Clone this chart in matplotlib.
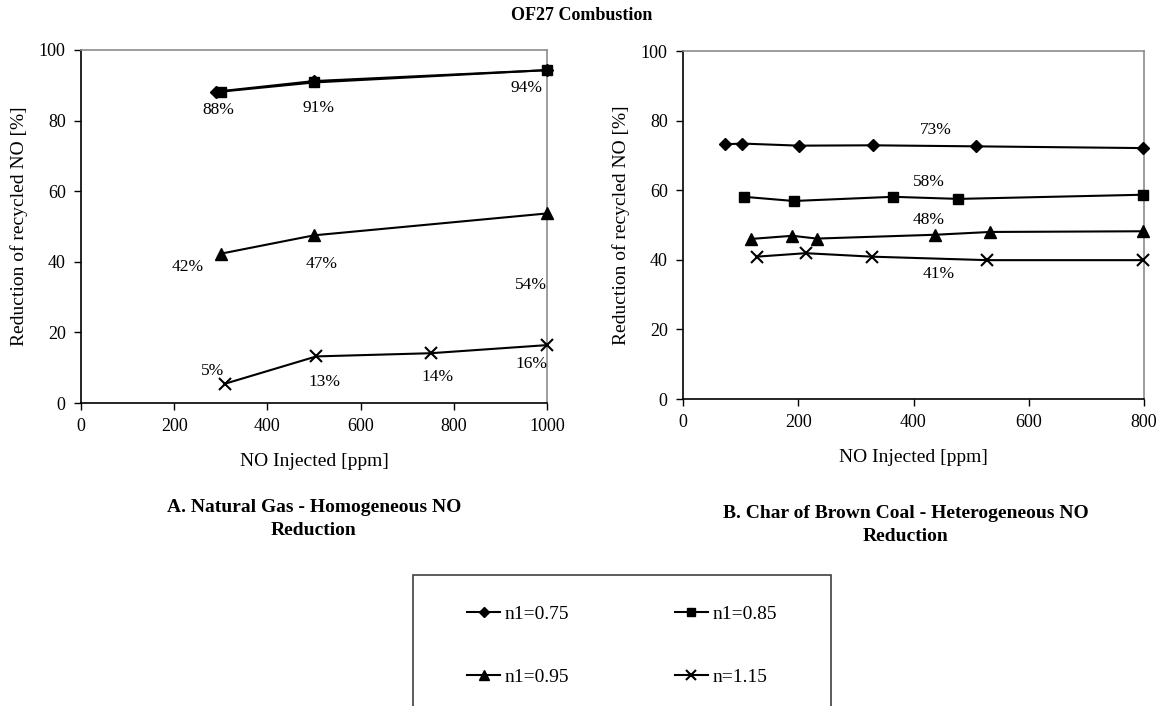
import matplotlib
matplotlib.use("Agg")
import matplotlib.pyplot as plt
from matplotlib.patches import Rectangle
from matplotlib.lines import Line2D

plt.rcParams['font.family'] = ['Liberation Serif', 'DejaVu Serif']

# ---------------- data ----------------
series_names = ["n1=0.75", "n1=0.85", "n1=0.95", "n=1.15"]

# A. Natural Gas - Homogeneous NO Reduction
a_x_075 = [290, 500, 1000]
a_y_075 = [88.2, 91.2, 94.3]
a_x_085 = [300, 500, 1000]
a_y_085 = [88.2, 90.8, 94.3]
a_x_095 = [300, 500, 1000]
a_y_095 = [42.3, 47.5, 53.7]
a_x_115 = [310, 505, 750, 1000]
a_y_115 = [5.5, 13.2, 14.1, 16.4]

a_labels = ["88%", "91%", "94%", "42%", "47%", "54%", "5%", "13%", "14%", "16%"]
a_label_pos = [(295, 83.0), (509, 83.5), (956, 89.3), (229, 38.5), (516, 39.5),
               (965, 33.3), (283, 9.0), (523, 6.0), (766, 7.5), (966, 11.0)]

# B. Char of Brown Coal - Heterogeneous NO Reduction
b_x_075 = [73, 103, 201, 329, 509, 799]
b_y_075 = [73.2, 73.4, 72.8, 72.9, 72.6, 72.1]
b_x_085 = [106, 192, 364, 478, 799]
b_y_085 = [58.1, 56.9, 58.1, 57.5, 58.7]
b_x_095 = [118, 190, 232, 438, 533, 799]
b_y_095 = [46.0, 46.9, 46.1, 47.2, 48.0, 48.2]
b_x_115 = [128, 213, 328, 528, 799]
b_y_115 = [40.9, 41.9, 40.9, 39.9, 39.9]

b_labels = ["73%", "58%", "48%", "41%"]
b_label_pos = [(439, 77.3), (427, 62.3), (427, 51.3), (444, 35.8)]

markers = ['D', 's', '^', 'x']
msizes = [6, 7.5, 8, 8]

# ---------------- figure ----------------
fig = plt.figure(figsize=(11.64, 7.06), dpi=100)

axA = fig.add_axes([81/1164, 1-403/706, 466/1164, 353/706])
axB = fig.add_axes([683/1164, 1-399/706, 461/1164, 348/706])

def style_axes(ax, xmax, xstep, xlabelpad):
    ax.set_xlim(0, xmax)
    ax.set_ylim(0, 100)
    ax.set_xticks(range(0, xmax + 1, xstep))
    ax.set_yticks(range(0, 101, 20))
    for s in ['top', 'right']:
        ax.spines[s].set_color('#8c8c8c')
        ax.spines[s].set_linewidth(1.2)
    for s in ['left', 'bottom']:
        ax.spines[s].set_color('black')
        ax.spines[s].set_linewidth(1.2)
    ax.tick_params(direction='out', length=5, width=1, labelsize=13, pad=6)
    ax.set_xlabel("NO Injected [ppm]", fontsize=14, labelpad=xlabelpad)
    ax.set_ylabel("Reduction of recycled NO [%]", fontsize=14, labelpad=8)

style_axes(axA, 1000, 200, 13)
style_axes(axB, 800, 200, 13)

A_sets = [(a_x_075, a_y_075), (a_x_085, a_y_085), (a_x_095, a_y_095), (a_x_115, a_y_115)]
B_sets = [(b_x_075, b_y_075), (b_x_085, b_y_085), (b_x_095, b_y_095), (b_x_115, b_y_115)]

for ax, sets in [(axA, A_sets), (axB, B_sets)]:
    for (xs, ys), m, ms in zip(sets, markers, msizes):
        ax.plot(xs, ys, color='black', lw=1.5, marker=m, markersize=ms,
                markeredgewidth=1.5 if m == 'x' else 1, clip_on=False, zorder=3)

for t, (x, y) in zip(a_labels, a_label_pos):
    axA.text(x, y, t, ha='center', va='center', fontsize=12.5)
for t, (x, y) in zip(b_labels, b_label_pos):
    axB.text(x, y, t, ha='center', va='center', fontsize=12.5)

fig.text(0.5, 1-15/706, "OF27 Combustion", ha='center', va='center',
         fontsize=13, fontweight='bold')
fig.text(314/1164, 1-519/706, "A. Natural Gas - Homogeneous NO\nReduction",
         ha='center', va='center', fontsize=14, fontweight='bold', linespacing=1.4)
fig.text(906/1164, 1-525/706, "B. Char of Brown Coal - Heterogeneous NO\nReduction",
         ha='center', va='center', fontsize=14, fontweight='bold', linespacing=1.4)

# legend box
fig.patches.append(Rectangle((413/1164, -0.05), (831-413)/1164, 0.05 + 1-575/706,
                             transform=fig.transFigure, fill=False,
                             edgecolor='#404040', linewidth=1.2))
handles = [Line2D([], [], color='black', lw=1.5, marker=m, markersize=ms*0.85,
                  markeredgewidth=1.5 if m == 'x' else 1)
           for m, ms in zip(markers, msizes)]
order = [0, 2, 1, 3]
fig.legend([handles[i] for i in order], [series_names[i] for i in order],
           ncol=2, frameon=False, loc='center',
           bbox_to_anchor=(622/1164, 1-645.5/706), fontsize=14,
           handlelength=1.7, handletextpad=0.25, columnspacing=5.4,
           labelspacing=2.35, borderpad=0)

fig.savefig("out.png", dpi=100)
